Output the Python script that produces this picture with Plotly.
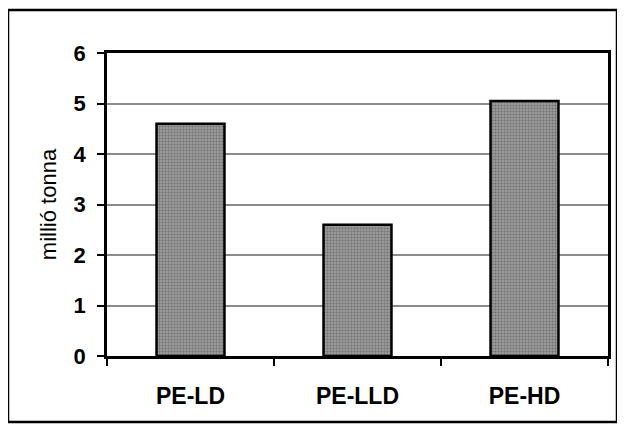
import plotly.graph_objects as go

categories = ["PE-LD", "PE-LLD", "PE-HD"]
values = [4.6, 2.6, 5.05]
y_ticks = [0, 1, 2, 3, 4, 5, 6]
y_title = "millió tonna"

# page has an 8px body margin; lay out in page coordinates minus 8
OFF = 8
W, H = 625 - OFF, 432 - OFF
L = 107 - OFF
T = 53 - OFF
R = W - (608 - OFF)
B = H - (356 - OFF)
pw, ph = W - L - R, H - T - B

fig = go.Figure(
    go.Bar(
        x=categories,
        y=values,
        marker=dict(
            color="#888888",
            line=dict(color="black", width=2.5),
            pattern=dict(shape=".", fgcolor="#4a4a4a", bgcolor="#a4a4a4", size=3, solidity=0.5),
        ),
        showlegend=False,
    )
)

fig.update_layout(
    width=W,
    height=H,
    margin=dict(l=L, r=R, t=T, b=B, pad=0),
    paper_bgcolor="white",
    plot_bgcolor="white",
    bargap=0.593,
    font=dict(family="Liberation Sans, Arial", color="black"),
)

fig.update_xaxes(
    type="category",
    showline=True,
    linecolor="black",
    linewidth=2.5,
    mirror=True,
    ticks="outside",
    tickson="boundaries",
    ticklen=7,
    tickwidth=2,
    tickcolor="black",
    showgrid=False,
    tickfont=dict(size=23, weight="bold"),
    ticklabelstandoff=18,
)

fig.update_yaxes(
    range=[0, 6],
    tickvals=y_ticks,
    showline=True,
    linecolor="black",
    linewidth=2.5,
    mirror=True,
    ticks="outside",
    ticklen=7,
    tickwidth=2,
    tickcolor="black",
    showgrid=True,
    gridcolor="#8c8c8c",
    gridwidth=2,
    zeroline=False,
    tickfont=dict(size=22, weight="bold"),
    ticklabelstandoff=7,
    title=dict(text=y_title, font=dict(size=22), standoff=11),
)

# outer chart border
x0 = (8 - OFF - L) / pw
x1 = (617 - OFF - L) / pw
y1 = (H - B - (10 - OFF)) / ph
y0 = (H - B - (422 - OFF)) / ph
fig.add_shape(
    type="rect", xref="paper", yref="paper",
    x0=x0, x1=x1, y0=y0, y1=y1,
    line=dict(color="black", width=2.5),
    layer="below",
)

fig.write_html("out.html")
